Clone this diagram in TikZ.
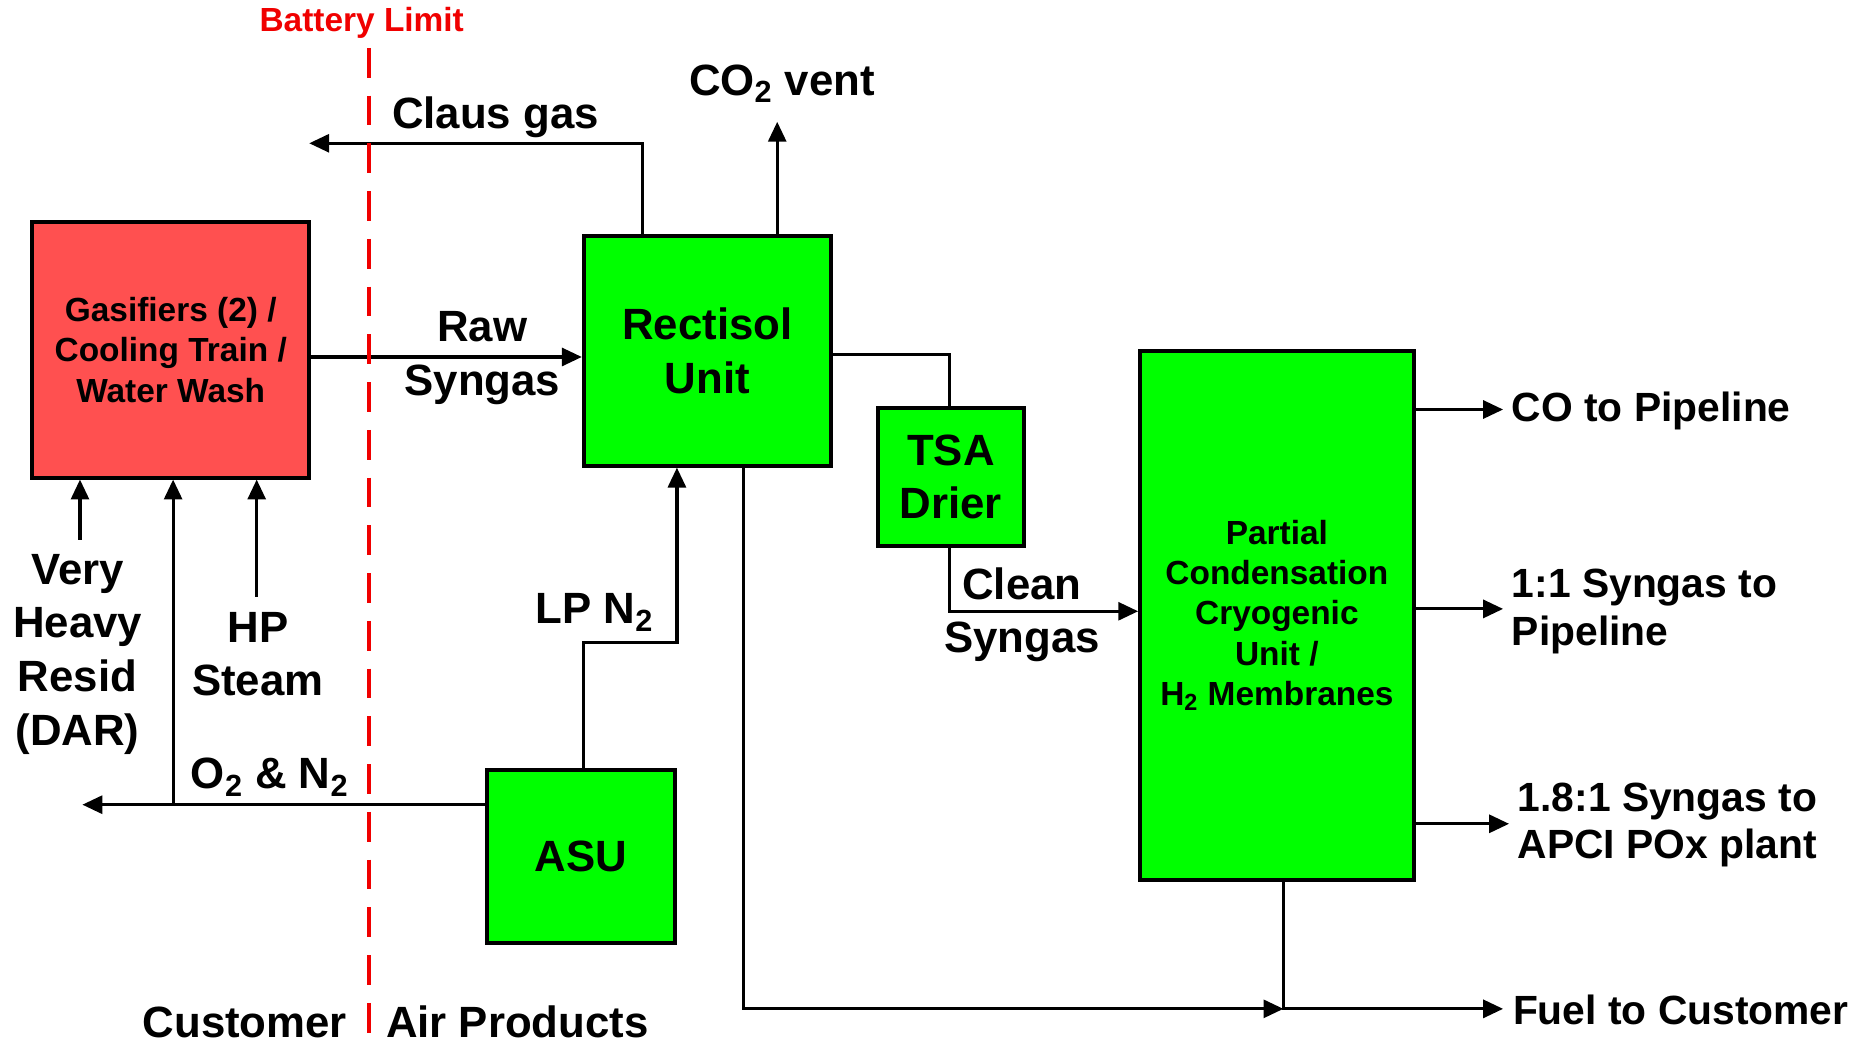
\documentclass[tikz,border=0pt]{standalone}
\usepackage{fontspec}
\setmainfont{Liberation Sans}
\usetikzlibrary{arrows.meta}
\definecolor{boxgreen}{RGB}{0,255,0}
\definecolor{boxred}{RGB}{255,80,80}
\definecolor{limred}{RGB}{240,0,0}
\begin{document}
\begin{tikzpicture}[x=0.6pt,y=-0.6pt,
 unitbox/.style={draw=black, line width=2pt, fill=boxgreen, inner sep=0pt, align=center},
 bigtxt/.style={font=\bfseries\fontsize{22}{27}\selectfont},
 smalltxt/.style={font=\bfseries\fontsize{16.8}{20.4}\selectfont},
 flow/.style={line width=1.6pt, -{Triangle[length=10pt,width=9pt]}},
 pipe/.style={line width=1.6pt},
 lbl/.style={bigtxt, align=center, inner sep=0pt},
 outlbl/.style={font=\bfseries\fontsize{20.5}{24}\selectfont, align=left, inner sep=0pt, anchor=west},
]
\useasboundingbox (0,0) rectangle (1568,874);

% boxes
\node[unitbox, fill=boxred, smalltxt, minimum width=139.2pt, minimum height=128.4pt] (gas) at (143,293)
  {Gasifiers (2) /\\Cooling Train /\\Water Wash};
\node[unitbox, bigtxt, minimum width=124.2pt, minimum height=115.2pt] (rect) at (592.5,294)
  {Rectisol\\Unit};
\node[unitbox, bigtxt, minimum width=73.8pt, minimum height=69pt] (tsa) at (796.5,399.5)
  {TSA\\Drier};
\node[unitbox, font=\bfseries\fontsize{16.8}{20.25}\selectfont, minimum width=137.4pt, minimum height=265.8pt] (part) at (1069.5,515.5)
  {Partial\\Condensation\\Cryogenic\\Unit /\\H\textsubscript{2} Membranes};
\node[unitbox, bigtxt, minimum width=94.2pt, minimum height=87pt] (asu) at (486.5,717.5)
  {ASU};

% free ends
\coordinate (clausEnd) at (259,120);
\coordinate (co2End) at (651,102);
\coordinate (coEnd) at (1259,343);
\coordinate (oneEnd) at (1259,510);
\coordinate (eightEnd) at (1264,690);
\coordinate (fuelEnd) at (1259,845);
\coordinate (fuelJoin) at (1075,845);
\coordinate (lpBend) at (567,538);
\coordinate (o2End) at (69,674);
\coordinate (o2Branch) at (145,674);
\coordinate (vhrStart) at (67,452);
\coordinate (hpStart) at (215,500);

% connectors
\draw[flow] (rect.north -| 538,0) |- (clausEnd);
\draw[flow] (rect.north -| co2End) -- (co2End);
\draw[flow] (gas.east |- 0,299) -- (rect.west |- 0,299);
\draw[pipe] (rect.east |- 0,297) -| (tsa.north -| 795,0);
\draw[flow] (tsa.south -| 795,0) |- (part.west |- 0,512);
\draw[flow] (part.east |- coEnd) -- (coEnd);
\draw[flow] (part.east |- oneEnd) -- (oneEnd);
\draw[flow] (part.east |- eightEnd) -- (eightEnd);
\draw[flow] (part.south -| fuelJoin) |- (fuelEnd);
\draw[flow] (rect.south -| 623,0) |- (fuelJoin);
\draw[flow] (asu.north -| 489,0) |- (lpBend) -- (rect.south -| lpBend);
\draw[flow] (asu.west |- o2End) -- (o2End);
\draw[flow] (o2Branch) -- (gas.south -| o2Branch);
\draw[flow] (vhrStart) -- (gas.south -| vhrStart);
\draw[flow] (hpStart) -- (gas.south -| hpStart);

% battery limit
\draw[limred, line width=1.6pt, dash pattern=on 15pt off 9pt] (309,40) -- (309,874);
\node[smalltxt, text=limred, inner sep=0pt] (bl) at (303,19) {Battery Limit};

% labels
\node[lbl] (lclaus) at (415,98) {Claus gas};
\node[lbl] (lco2) at (655,70) {CO\textsubscript{2} vent};
\node[lbl] (lraw) at (404,300) {Raw\\Syngas};
\node[lbl] (lclean) at (856,515) {Clean\\Syngas};
\node[lbl] (lvhr) at (65,548) {Very\\Heavy\\Resid\\(DAR)};
\node[lbl] (lhp) at (216,548) {HP\\Steam};
\node[lbl] (lo2) at (226,651) {O\textsubscript{2} \& N\textsubscript{2}};
\node[lbl] (llp) at (498,513) {LP N\textsubscript{2}};
\node[lbl, anchor=east] (lcust) at (291,856) {Customer};
\node[lbl, anchor=west] (lap) at (323,856) {Air Products};
\node[outlbl] (lco) at (1266,344) {CO to Pipeline};
\node[outlbl] (lone) at (1266,512) {1:1 Syngas to\\Pipeline};
\node[outlbl] (leight) at (1271,691) {1.8:1 Syngas to\\APCI POx plant};
\node[outlbl] (lfuel) at (1267,846) {Fuel to Customer};
\end{tikzpicture}
\end{document}
